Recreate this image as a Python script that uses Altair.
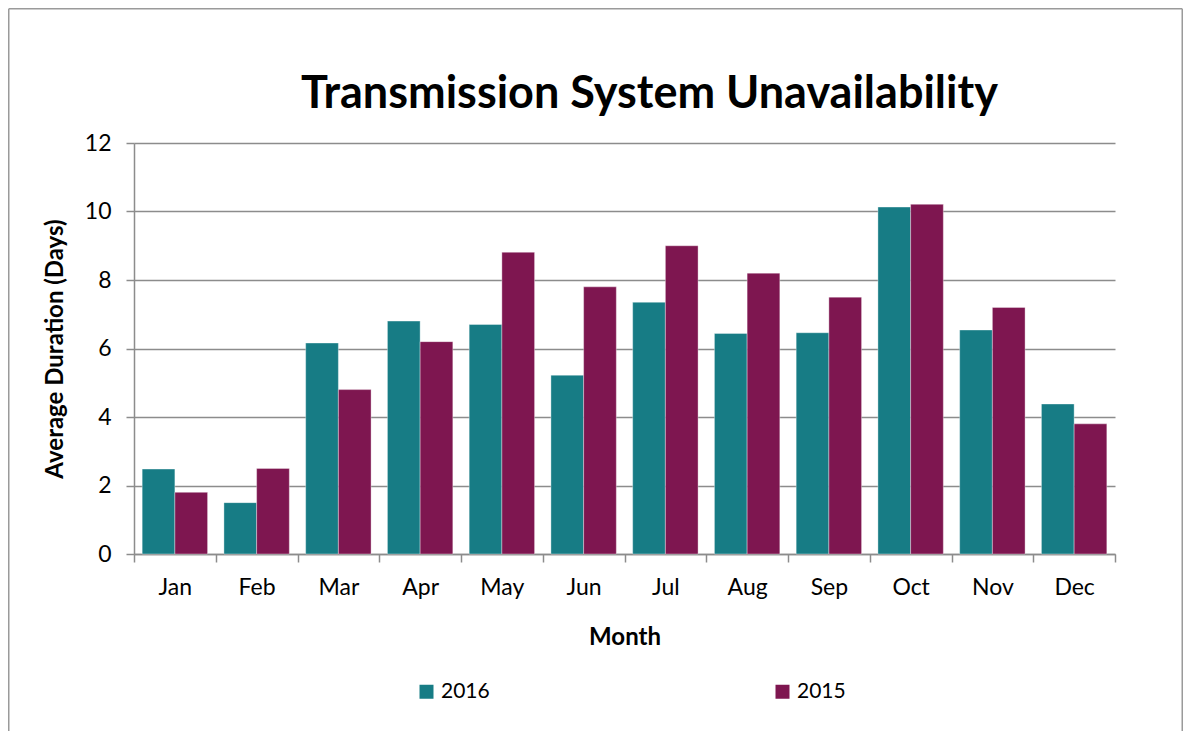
import altair as alt
import pandas as pd

months = ["Jan", "Feb", "Mar", "Apr", "May", "Jun", "Jul", "Aug", "Sep", "Oct", "Nov", "Dec"]
years = ["2016", "2015"]
v2016 = [2.48, 1.50, 6.16, 6.80, 6.70, 5.22, 7.35, 6.44, 6.46, 10.13, 6.54, 4.38]
v2015 = [1.80, 2.50, 4.80, 6.20, 8.81, 7.80, 9.00, 8.20, 7.50, 10.21, 7.20, 3.80]
colors = ["#177C85", "#7E1650"]

rows = []
for m, a, b in zip(months, v2016, v2015):
    rows.append({"Month": m, "Year": "2016", "Value": a})
    rows.append({"Month": m, "Year": "2015", "Value": b})
df = pd.DataFrame(rows)

FONT = "Lato"
W, H = 981, 411
PL, PT, PR, PB = 126, 135, 68, 177

one = pd.DataFrame({"a": [0]})
fstyle = dict(color="#9a9a9a", strokeWidth=1.5)
left = alt.Chart(one).mark_rule(**fstyle).encode(
    x=alt.value(-125.25), y=alt.value(-134.25), y2=alt.value(H + PB + 40))
top = alt.Chart(one).mark_rule(**fstyle).encode(
    x=alt.value(-125.25), x2=alt.value(W + PR - 0.75), y=alt.value(-134.25))
right = alt.Chart(one).mark_rule(**fstyle).encode(
    x=alt.value(W + PR - 0.75), y=alt.value(-134.25), y2=alt.value(H + PB + 40))

bars = alt.Chart(df).mark_bar(stroke="#ffffff", strokeWidth=0.6, strokeOpacity=0.6).encode(
    x=alt.X("Month:N", sort=months,
            scale=alt.Scale(paddingInner=0, paddingOuter=0),
            axis=alt.Axis(title="Month", labelAngle=0, tickBand="extent",
                          labelPadding=14, titlePadding=26)),
    xOffset=alt.XOffset("Year:N", sort=years,
                        scale=alt.Scale(paddingInner=0, paddingOuter=0.25)),
    y=alt.Y("Value:Q", scale=alt.Scale(domain=[0, 12]),
            axis=alt.Axis(title="Average Duration (Days)", values=[0, 2, 4, 6, 8, 10, 12],
                          labelPadding=15, titlePadding=17)),
    color=alt.Color("Year:N", sort=years,
                    scale=alt.Scale(domain=years, range=colors),
                    legend=alt.Legend(title=None, orient="none", direction="horizontal",
                                      legendX=282, legendY=538, symbolType="square",
                                      symbolSize=196, symbolStrokeWidth=0,
                                      columnPadding=282, labelFontSize=21,
                                      labelFont=FONT, labelColor="#000000",
                                      symbolOffset=0, labelOffset=4)),
)

chart = alt.layer(left, top, right, bars).properties(
    width=W, height=H,
    autosize=alt.AutoSizeParams(type="none"),
    padding={"left": PL, "top": PT, "right": PR, "bottom": PB},
    title=alt.TitleParams("Transmission System Unavailability", fontSize=45,
                          font=FONT, fontWeight="bold", color="#000000",
                          anchor="middle", frame="group", dx=25, offset=0, dy=109),
).configure_view(stroke=None).configure_axis(
    labelFont=FONT, titleFont=FONT, labelFontSize=23, titleFontSize=24,
    labelColor="#000000", titleColor="#000000", titleFontWeight="bold",
    domainColor="#8c8c8c", tickColor="#8c8c8c", gridColor="#8c8c8c",
    domainWidth=1.5, tickWidth=1.5, gridWidth=1.5, tickSize=8,
).configure_axisX(grid=False).configure_axisY(grid=True)

chart.save("out.html", embed_options={"renderer": "svg", "actions": False})
